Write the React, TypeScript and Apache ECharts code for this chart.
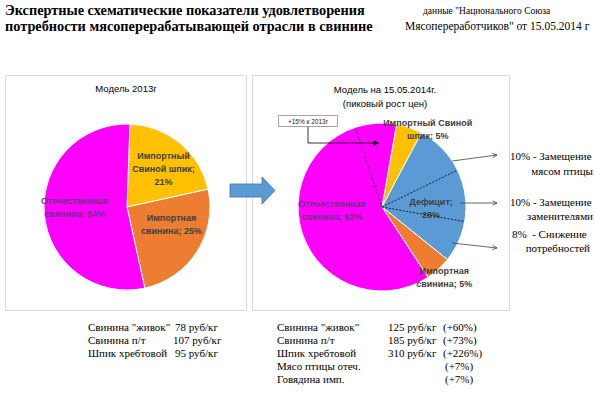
import React, { useEffect, useRef } from "react";
import * as echarts from "echarts";

// ---- data ----
const leftNames = ["Импортный\nСвиной шпик", "Импортная\nсвинина", "Отечественная\nсвинина"];
const leftValues = [21, 25, 54];
const leftValueBreak = ["\n", " ", " "];
const rightNames = ["Импортный Свиной\nшпик", "Дефицит", "Импортная\nсвинина", "Отечественная\nсвинина"];
const rightValues = [5, 28, 5, 62];
const rightValueBreak = [" ", "\n", " ", " "];
const deficitParts = [10, 10, 8];
const deficitLabels = [
  ["10% - Замещение", "мясом птицы"],
  ["10% - Замещение", "заменителями"],
  ["8%  - Снижение", "потребностей"],
];
const items2013 = ['Свинина "живок"', "Свинина п/т", "Шпик хребтовой"];
const prices2013 = ["78 руб/кг", "107 руб/кг", "95 руб/кг"];
const items2014 = ['Свинина "живок"', "Свинина п/т", "Шпик хребтовой", "Мясо птицы отеч.", "Говядина имп."];
const prices2014 = ["125 руб/кг", "185 руб/кг", "310 руб/кг", "", ""];
const changes2014 = ["(+60%)", "(+73%)", "(+226%)", "(+7%)", "(+7%)"];

const leftColors = ["#FFC000", "#ED7D31", "#FF00FF"];
const rightColors = ["#FFC000", "#5B9BD5", "#ED7D31", "#FF00FF"];

const SERIF = "'Liberation Serif', 'Times New Roman', serif";
const SANS = "'Liberation Sans', Arial, sans-serif";

const LC = [127, 207];
const LR = 83;
const RC = [382, 207];
const RR = 84;
const L_START = 88;
const R_START = 80;

const leftOffsets = [[8, -4], [7, -6], [-8, -4]];
const rightOffsets = [[31, -35], [5, 11], [32, 37], [-6, -6]];

function polar(c: number[], r: number, deg: number) {
  const a = (deg * Math.PI) / 180;
  return [c[0] + r * Math.cos(a), c[1] - r * Math.sin(a)];
}

function openArrow(x1: number, y1: number, x2: number, y2: number, color: string) {
  const ang = Math.atan2(y2 - y1, x2 - x1);
  const s = 5;
  const p1 = [x2 - s * Math.cos(ang - 0.45), y2 - s * Math.sin(ang - 0.45)];
  const p2 = [x2 - s * Math.cos(ang + 0.45), y2 - s * Math.sin(ang + 0.45)];
  return [
    { type: "line", z: 20, shape: { x1, y1, x2, y2 }, style: { stroke: color, lineWidth: 0.8 } },
    { type: "polyline", z: 20, shape: { points: [p1, [x2, y2], p2] }, style: { stroke: color, lineWidth: 0.8, fill: null } },
  ];
}

function txt(x: number, y: number, text: string, opts: any = {}) {
  return {
    type: "text",
    z: 20,
    x,
    y,
    style: {
      text,
      fill: opts.fill || "#000",
      font: opts.font || `11px ${SERIF}`,
      align: opts.align || "left",
      verticalAlign: "middle",
    },
  };
}

export default function App() {
  const ref = useRef<HTMLDivElement>(null);
  useEffect(() => {
    document.body.style.margin = "0";
    const chart = echarts.init(ref.current!, null, { renderer: "svg" });

    const graphics: any[] = [];
    // panels
    graphics.push({ type: "rect", z: -5, shape: { x: 5.5, y: 75.5, width: 241, height: 235 }, style: { fill: "#fff", stroke: "#d9d9d9", lineWidth: 1 } });
    graphics.push({ type: "rect", z: -5, shape: { x: 252.5, y: 75.5, width: 257, height: 235 }, style: { fill: "#fff", stroke: "#d9d9d9", lineWidth: 1 } });
    // header
    graphics.push(txt(5, 10, "Экспертные схематические показатели удовлетворения", { font: `bold 14.3px ${SERIF}` }));
    graphics.push(txt(5, 26, "потребности мясоперерабатывающей отрасли в свинине", { font: `bold 14.3px ${SERIF}` }));
    graphics.push(txt(423, 11, 'данные "Национального Союза', { font: `9.5px ${SERIF}` }));
    graphics.push(txt(405, 26, 'Мясопереработчиков" от 15.05.2014 г', { font: `11.5px ${SERIF}` }));
    // chart titles
    graphics.push(txt(126, 88, "Модель 2013г", { font: `9.5px ${SANS}`, align: "center" }));
    graphics.push(txt(385, 89, "Модель на 15.05.2014г.", { font: `9.5px ${SANS}`, align: "center" }));
    graphics.push(txt(385, 103, "(пиковый рост цен)", { font: `9.5px ${SANS}`, align: "center" }));
    // big arrow
    graphics.push({
      type: "polygon",
      z: 30,
      shape: { points: [[230, 184], [262, 184], [262, 177], [275, 190.5], [262, 204], [262, 197], [230, 197]] },
      style: { fill: "#5B9BD5", stroke: "#41719C", lineWidth: 0.8 },
    });
    // +15% dashed split line in magenta
    const extra = rightValues[3] - leftValues[2];
    const extraAng = R_START + (extra / 100) * 360;
    const pe = polar(RC, RR, extraAng);
    graphics.push({ type: "line", z: 20, shape: { x1: RC[0], y1: RC[1], x2: pe[0], y2: pe[1] }, style: { stroke: "#000", lineWidth: 0.8, lineDash: [2, 1.5] } });
    // deficit split lines
    let ang = R_START - (rightValues[0] / 100) * 360;
    for (let i = 0; i < deficitParts.length - 1; i++) {
      ang -= (deficitParts[i] / 100) * 360;
      const p = polar(RC, RR, ang);
      graphics.push({ type: "line", z: 20, shape: { x1: RC[0], y1: RC[1], x2: p[0], y2: p[1] }, style: { stroke: "#000", lineWidth: 0.8, lineDash: [2, 1.5] } });
    }
    // callout
    graphics.push({ type: "rect", z: 20, shape: { x: 278.5, y: 115.5, width: 59, height: 11 }, style: { fill: "#fff", stroke: "#8c8c8c", lineWidth: 0.8 } });
    graphics.push(txt(308, 121, "+15% к 2013г", { font: `6.5px ${SANS}`, align: "center", fill: "#222" }));
    graphics.push({ type: "polyline", z: 20, shape: { points: [[308, 127], [308, 143], [374, 143]] }, style: { stroke: "#000", lineWidth: 0.8, fill: null } });
    graphics.push({ type: "polygon", z: 20, shape: { points: [[373, 140], [379, 143], [373, 146]] }, style: { fill: "#000" } });
    // deficit arrows
    const arrowPts = [[452, 161, 497, 155], [460, 203, 497, 203], [452, 243, 497, 248]];
    arrowPts.forEach((a) => graphics.push(...openArrow(a[0], a[1], a[2], a[3], "#404040")));
    const labY = [[156, 171], [202, 216], [234, 248]];
    deficitLabels.forEach((l, i) => {
      graphics.push(txt(i === 2 ? 512 : 510, labY[i][0], l[0]));
      graphics.push(txt(i === 2 ? 590 : 593, labY[i][1], l[1], { align: "right" }));
    });
    // bottom tables
    const rowY = [327, 340, 353, 366, 379];
    items2013.forEach((t, i) => {
      graphics.push(txt(88, rowY[i], t));
      graphics.push(txt(i === 1 ? 173 : 175, rowY[i], prices2013[i]));
    });
    items2014.forEach((t, i) => {
      graphics.push(txt(277, rowY[i], t));
      if (prices2014[i]) graphics.push(txt(388, rowY[i], prices2014[i]));
      graphics.push(txt(i < 3 ? 443 : 445, rowY[i], changes2014[i]));
    });

    const labelStyle = {
      show: true,
      position: "inside",
      fontFamily: SANS,
      fontWeight: "bold",
      fontSize: 9,
      lineHeight: 13,
      color: "#404040",
      align: "center",
    };

    chart.setOption({
      animation: false,
      backgroundColor: "#fff",
      graphic: { elements: graphics },
      series: [
        {
          type: "pie",
          center: LC,
          radius: [0, LR],
          startAngle: L_START,
          clockwise: true,
          silent: true,
          itemStyle: { borderColor: "#fff", borderWidth: 1 },
          label: {
            ...labelStyle,
            formatter: (p: any) => `${p.name};${leftValueBreak[p.dataIndex]}${p.value}%`,
          },
          labelLine: { show: false },
          labelLayout: (p: any) => ({ dx: leftOffsets[p.dataIndex][0], dy: leftOffsets[p.dataIndex][1] }),
          data: leftNames.map((n, i) => ({
            name: n,
            value: leftValues[i],
            itemStyle: { color: leftColors[i] },
            label: i === 2 ? { color: "#702F8A" } : undefined,
          })),
        },
        {
          type: "pie",
          center: RC,
          radius: [0, RR],
          startAngle: R_START,
          clockwise: true,
          silent: true,
          itemStyle: { borderColor: "#fff", borderWidth: 1 },
          label: {
            ...labelStyle,
            formatter: (p: any) => `${p.name};${rightValueBreak[p.dataIndex]}${p.value}%`,
          },
          labelLine: { show: false },
          labelLayout: (p: any) => ({ dx: rightOffsets[p.dataIndex][0], dy: rightOffsets[p.dataIndex][1] }),
          data: rightNames.map((n, i) => ({
            name: n,
            value: rightValues[i],
            itemStyle: { color: rightColors[i] },
            label: i === 3 ? { color: "#702F8A" } : undefined,
          })),
        },
      ],
    });
    return () => chart.dispose();
  }, []);
  return <div ref={ref} style={{ width: 595, height: 396 }} />;
}
